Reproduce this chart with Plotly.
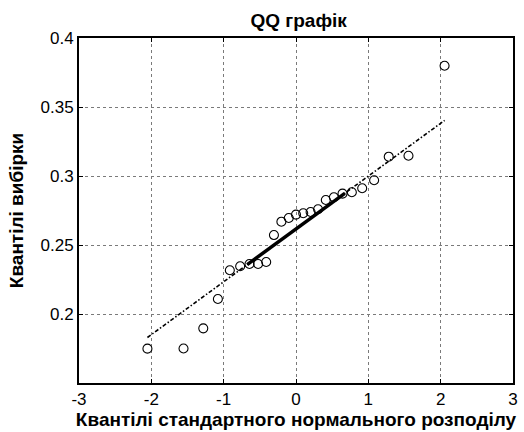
import plotly.graph_objects as go

# Theoretical standard normal quantiles (n = 25 sample points)
normal_quantiles = [-2.054, -1.555, -1.282, -1.080, -0.915, -0.772, -0.643, -0.524,
                    -0.412, -0.305, -0.202, -0.100, 0.000, 0.100, 0.202, 0.305,
                    0.412, 0.524, 0.643, 0.772, 0.915, 1.080, 1.282, 1.555, 2.054]
# Ordered sample values
sample_quantiles = [0.1749, 0.1750, 0.1896, 0.2109, 0.2317, 0.2346, 0.2362, 0.2362,
                    0.2377, 0.2572, 0.2669, 0.2696, 0.2720, 0.2730, 0.2739, 0.2759,
                    0.2826, 0.2846, 0.2872, 0.2882, 0.2911, 0.2969, 0.3140, 0.3147,
                    0.3799]
x_ticks = [-3, -2, -1, 0, 1, 2, 3]
x_tick_labels = ["-3", "-2", "-1", "0", "1", "2", "3"]
y_ticks = [0.2, 0.25, 0.3, 0.35, 0.4]
y_tick_labels = ["0.2", "0.25", "0.3", "0.35", "0.4"]

# Reference line through the first and third quartiles
Z75 = 0.6745


def prctile(vals, p):
    n = len(vals)
    pos = n * p / 100 + 0.5
    i = int(pos)
    frac = pos - i
    return vals[i - 1] + frac * (vals[i] - vals[i - 1])


q1 = prctile(sample_quantiles, 25)
q3 = prctile(sample_quantiles, 75)
slope = (q3 - q1) / (2 * Z75)
centre = (q1 + q3) / 2
x_lo, x_hi = normal_quantiles[0], normal_quantiles[-1]

font = "Liberation Sans, Arial, sans-serif"
fig = go.Figure()
fig.add_trace(go.Scatter(
    x=[x_lo, x_hi], y=[centre + slope * x_lo, centre + slope * x_hi],
    mode="lines", line=dict(color="black", width=1.6, dash="4px,2px,1.5px,2px"),
    showlegend=False, hoverinfo="skip"))
fig.add_trace(go.Scatter(
    x=[-Z75, Z75], y=[q1, q3],
    mode="lines", line=dict(color="black", width=3.5),
    showlegend=False, hoverinfo="skip"))
fig.add_trace(go.Scatter(
    x=normal_quantiles, y=sample_quantiles, mode="markers",
    marker=dict(symbol="circle-open", size=9, color="black", line=dict(width=1.1)),
    showlegend=False))

axis_common = dict(
    showline=True, linecolor="black", linewidth=2, mirror="ticks",
    ticks="inside", ticklen=4, tickwidth=1, tickcolor="black",
    showgrid=True, gridcolor="#7a7a7a", griddash="dot", gridwidth=1,
    zeroline=False, tickfont=dict(family=font, size=17, color="black"),
)

fig.update_layout(
    width=524, height=432,
    margin=dict(l=79, r=6, t=38, b=49),
    paper_bgcolor="white", plot_bgcolor="white",
    title=dict(text="<b>QQ графік</b>", x=0.57, xanchor="center", y=0.953, yanchor="middle",
               font=dict(family=font, size=19, color="black")),
    xaxis=dict(range=[-3, 3], tickvals=x_ticks, ticktext=x_tick_labels, **axis_common,
               title=dict(text="<b>Квантілі стандартного нормального розподілу</b>",
                          font=dict(family=font, size=19, color="black"), standoff=0)),
    yaxis=dict(range=[0.15, 0.4], tickvals=y_ticks, ticktext=y_tick_labels, **axis_common,
               title=dict(text="<b>Квантілі вибірки</b>",
                          font=dict(family=font, size=19, color="black"), standoff=12)),
)

fig.write_html("out.html")
